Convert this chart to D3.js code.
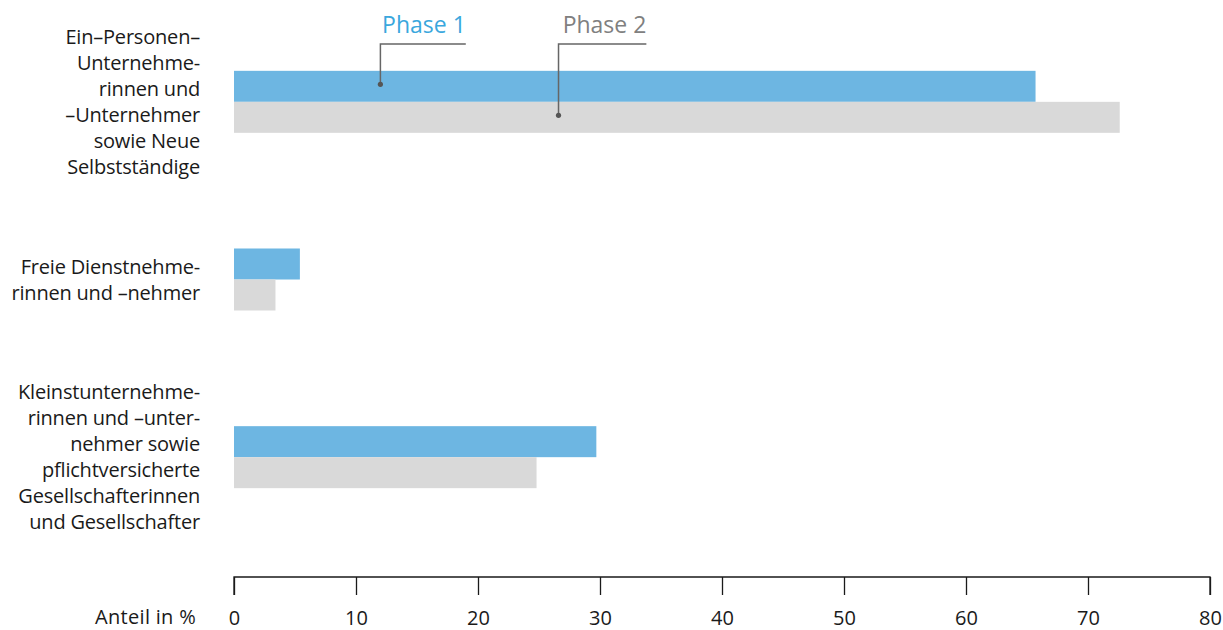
<!DOCTYPE html>
<html>
<head>
<meta charset="utf-8">
<script src="https://cdn.jsdelivr.net/npm/d3@7"></script>
<style>
  body { margin: 0; background: #fff; }
  svg { display: block; font-family: "Open Sans", "Noto Sans", sans-serif; }
</style>
</head>
<body>
<svg id="chart" width="1223" height="630"></svg>
<script>
// Categories (each label broken into its printed lines)
const categories = [
  ["Ein–Personen–", "Unternehme-", "rinnen und", "–Unternehmer", "sowie Neue", "Selbstständige"],
  ["Freie Dienstnehme-", "rinnen und –nehmer"],
  ["Kleinstunternehme-", "rinnen und –unter-", "nehmer sowie", "pflichtversicherte", "Gesellschafterinnen", "und Gesellschafter"]
];
const categoryKeys = ["EPU", "FDN", "KU"];
const seriesNames = ["Phase 1", "Phase 2"];
const phase1 = [65.7, 5.4, 29.7];
const phase2 = [72.6, 3.4, 24.8];
const xTicks = [0, 10, 20, 30, 40, 50, 60, 70, 80];
const axisTitle = "Anteil in %";

const colors = { "Phase 1": "#6db6e2", "Phase 2": "#d9d9d9" };
const labelColors = { "Phase 1": "#3aa7dd", "Phase 2": "#808080" };

const svg = d3.select("#chart");

const x = d3.scaleLinear().domain([0, 80]).range([234, 1210]);
const y = d3.scaleBand().domain(categoryKeys).range([13, 546]);
const barH = 31;
const ySub = d3.scaleBand().domain(seriesNames).range([0, barH * 2]);

const rows = categoryKeys.map((k, i) => ({ key: k, lines: categories[i], values: [phase1[i], phase2[i]] }));

// Bars
const g = svg.append("g");
rows.forEach(r => {
  const top = y(r.key) + y.bandwidth() / 2 - barH;
  seriesNames.forEach((s, j) => {
    g.append("rect")
      .attr("x", x(0))
      .attr("y", top + ySub(s))
      .attr("width", x(r.values[j]) - x(0))
      .attr("height", ySub.bandwidth())
      .attr("fill", colors[s]);
  });
});

// Category labels
const lineH = 26;
rows.forEach(r => {
  const cy = y(r.key) + y.bandwidth() / 2;
  const n = r.lines.length;
  const t = svg.append("text")
    .attr("text-anchor", "end")
    .attr("font-size", 20)
    .attr("letter-spacing", -0.2)
    .attr("fill", "#1a1a1a");
  r.lines.forEach((ln, i) => {
    t.append("tspan")
      .attr("x", 200)
      .attr("y", cy + (i - (n - 1) / 2) * lineH + 7)
      .text(ln);
  });
});

// X axis
const axisY = 577;
const axis = svg.append("g")
  .attr("transform", `translate(0,${axisY})`)
  .call(d3.axisBottom(x).tickValues(xTicks).tickSize(18).tickPadding(16).tickFormat(d3.format("d")));
axis.select(".domain").attr("stroke", "#1a1a1a").attr("stroke-width", 1.3)
  .attr("d", `M${x(0)},18V0H${x(80)}V18`);
axis.selectAll(".tick line").attr("stroke", "#1a1a1a").attr("stroke-width", 1.3);
axis.selectAll(".tick text").attr("font-size", 20).attr("fill", "#1a1a1a")
  .attr("font-family", "\"Open Sans\", sans-serif");

svg.append("text")
  .attr("x", 196).attr("y", 624)
  .attr("text-anchor", "end")
  .attr("font-size", 20)
  .attr("letter-spacing", 0.3)
  .attr("fill", "#1a1a1a")
  .text(axisTitle);

// Series callouts with leader lines
const firstTop = y(categoryKeys[0]) + y.bandwidth() / 2 - barH;
const callouts = [
  { s: "Phase 1", v: 12, lineEnd: 19 },
  { s: "Phase 2", v: 26.6, lineEnd: 33.8 }
];
callouts.forEach(c => {
  const dotY = firstTop + ySub(c.s) + ySub.bandwidth() / 2 - 2;
  const elbowY = 44;
  svg.append("path")
    .attr("d", `M${x(c.v)},${dotY}V${elbowY}H${x(c.lineEnd)}`)
    .attr("fill", "none")
    .attr("stroke", "#666")
    .attr("stroke-width", 1.5);
  svg.append("circle")
    .attr("cx", x(c.v)).attr("cy", dotY).attr("r", 2.6)
    .attr("fill", "#555");
  svg.append("text")
    .attr("x", x(c.lineEnd))
    .attr("y", 33)
    .attr("text-anchor", "end")
    .attr("font-size", 23)
    .attr("fill", labelColors[c.s])
    .text(c.s);
});
</script>
</body>
</html>
